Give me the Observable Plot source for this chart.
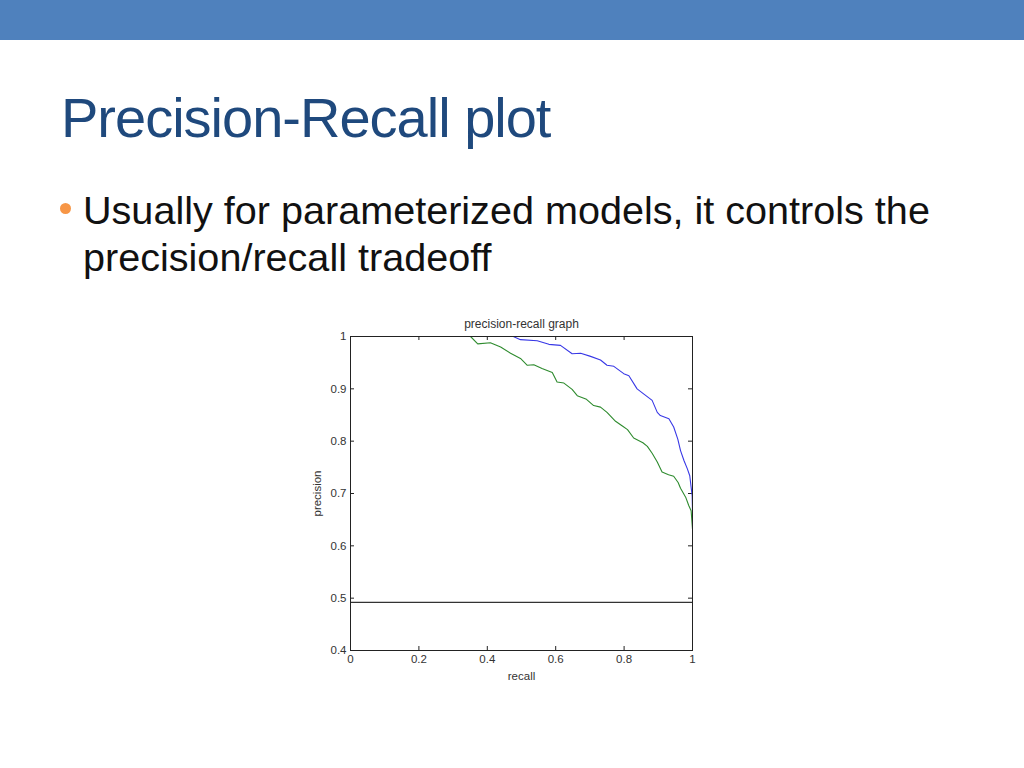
<!DOCTYPE html>
<html>
<head>
<meta charset="utf-8">
<script src="https://cdn.jsdelivr.net/npm/d3@7"></script>
<script src="https://cdn.jsdelivr.net/npm/@observablehq/plot@0.6"></script>
<style>
  html, body { margin: 0; padding: 0; background: #fff; }
  #slide { position: relative; width: 1024px; height: 768px; overflow: hidden; background: #fff; font-family: "Liberation Sans", Arial, sans-serif; }
  #bar { position: absolute; left: 0; top: 0; width: 1024px; height: 40px; background: #4f81bd; }
  #title { position: absolute; left: 61px; top: 90px; font-size: 56px; line-height: 56px; color: #1f497d; letter-spacing: -1px; white-space: nowrap; }
  #body { position: absolute; left: 83px; top: 187px; width: 900px; font-size: 39.6px; line-height: 47px; color: #111; }
  #bullet { position: absolute; left: 60px; top: 203px; width: 11px; height: 11px; border-radius: 50%; background: #f79646; }
  #chart { position: absolute; left: 300px; top: 300px; }
</style>
</head>
<body>
<div id="slide">
  <div id="bar"></div>
  <div id="title">Precision-Recall plot</div>
  <div id="bullet"></div>
  <div id="body">Usually for parameterized models, it controls the<br>precision/recall tradeoff</div>
  <div id="chart"></div>
</div>
<script>
// Blue curve (recall, precision)
const blueRecall = [0.476,0.497,0.546,0.580,0.614,0.648,0.673,0.702,0.731,0.750,0.770,0.799,0.814,0.838,0.858,0.882,0.897,0.906,0.931,0.945,0.957,0.965,0.975,0.985,0.992,0.996,0.999,1.0];
const bluePrecision = [1.0,0.994,0.992,0.985,0.983,0.967,0.968,0.962,0.955,0.945,0.943,0.929,0.925,0.900,0.890,0.878,0.855,0.849,0.843,0.827,0.804,0.782,0.763,0.747,0.734,0.712,0.696,0.667];
// Green curve (recall, precision)
const greenRecall = [0.351,0.372,0.409,0.439,0.468,0.497,0.517,0.536,0.560,0.590,0.604,0.624,0.648,0.663,0.690,0.711,0.731,0.750,0.775,0.795,0.810,0.828,0.855,0.868,0.882,0.897,0.911,0.930,0.945,0.958,0.965,0.980,0.989,0.996,1.0];
const greenPrecision = [1.0,0.986,0.988,0.980,0.968,0.958,0.945,0.946,0.939,0.931,0.913,0.911,0.899,0.887,0.880,0.868,0.865,0.855,0.838,0.829,0.822,0.806,0.797,0.790,0.777,0.760,0.741,0.736,0.733,0.721,0.710,0.693,0.677,0.667,0.632];
// Baseline (random classifier precision)
const baselinePrecision = [0.492];
// Axis ticks
const xTicks = [0, 0.2, 0.4, 0.6, 0.8, 1];
const yTicks = [0.4, 0.5, 0.6, 0.7, 0.8, 0.9, 1];
const xTickLabels = ["0", "0.2", "0.4", "0.6", "0.8", "1"];
const yTickLabels = ["0.4", "0.5", "0.6", "0.7", "0.8", "0.9", "1"];
const chartTitle = ["precision-recall graph"];

const blue = blueRecall.map((r, i) => ({recall: r, precision: bluePrecision[i]}));
const green = greenRecall.map((r, i) => ({recall: r, precision: greenPrecision[i]}));

const W = 402, H = 400, mL = 50, mR = 10, mT = 36, mB = 50;
const innerW = W - mL - mR, innerH = H - mT - mB;
const tk = 4;

const chart = Plot.plot({
  width: W, height: H,
  marginLeft: mL, marginRight: mR, marginTop: mT, marginBottom: mB,
  style: {fontFamily: "'Liberation Sans', Arial, sans-serif", fontSize: "11.5px", color: "#333", background: "transparent"},
  x: {domain: [0, 1]},
  y: {domain: [0.4, 1]},
  marks: [
    Plot.axisX({ticks: xTicks, tickSize: 0, tickPadding: 4, tickFormat: d => xTickLabels[xTicks.indexOf(d)], label: "recall", labelAnchor: "center", labelArrow: "none", labelOffset: 29, fontSize: 11.5}),
    Plot.axisY({ticks: yTicks, tickSize: 0, tickPadding: 4, tickFormat: d => yTickLabels[yTicks.indexOf(d)], label: "precision", labelAnchor: "center", labelArrow: "none", labelOffset: 38, fontSize: 11.5}),
    Plot.tickX(xTicks, {x: d => d, insetTop: innerH - tk, stroke: "#222"}),
    Plot.tickX(xTicks, {x: d => d, insetBottom: innerH - tk, stroke: "#222"}),
    Plot.tickY(yTicks, {y: d => d, insetRight: innerW - tk, stroke: "#222"}),
    Plot.tickY(yTicks, {y: d => d, insetLeft: innerW - tk, stroke: "#222"}),
    Plot.ruleY(baselinePrecision, {stroke: "#333", strokeWidth: 1.2}),
    Plot.line(green, {x: "recall", y: "precision", stroke: "#2e8b2e", strokeWidth: 1.1}),
    Plot.line(blue, {x: "recall", y: "precision", stroke: "#3838e6", strokeWidth: 1.1}),
    Plot.frame({stroke: "#222", strokeWidth: 1}),
    Plot.text(chartTitle, {frameAnchor: "top", dy: -17, fontSize: 12, fill: "#333"})
  ]
});
document.getElementById("chart").appendChild(chart);
</script>
</body>
</html>
